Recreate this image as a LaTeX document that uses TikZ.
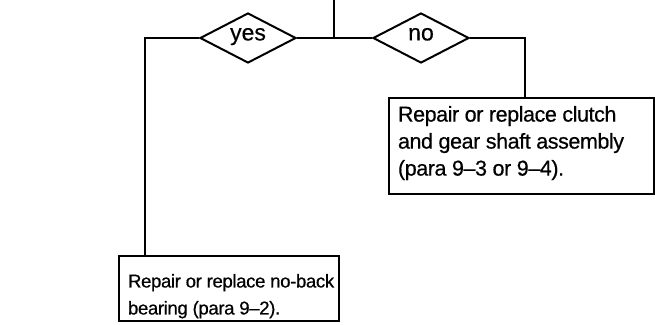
\documentclass[tikz,border=0pt]{standalone}
\usepackage{fontspec}
\setmainfont[FakeBold=0.5]{Liberation Sans}
\usetikzlibrary{shapes.geometric}
\begin{document}
\begin{tikzpicture}[x=1pt,y=-1pt,
  line width=2pt,
  choice/.style={draw,diamond,inner sep=0pt,minimum width=96pt,minimum height=50pt,
    font=\fontsize{23pt}{27pt}\selectfont,text depth=0pt,text height=0.48em},
  frame/.style={draw,rectangle,anchor=north west,inner sep=0pt},
  label/.style={anchor=north west,align=left,inner sep=0pt}]
\useasboundingbox (0,0) rectangle (655,324);
\coordinate (top) at (334,0);
\coordinate (j) at (334,38);
\node[choice] (yes) at (248,38) {yes};
\node[choice] (no) at (421,38) {no};
\node[frame,minimum width=265pt,minimum height=96pt] (cl) at (388,97) {};
\node[label,font=\fontsize{21.5pt}{27pt}\selectfont\addfontfeatures{LetterSpace=-2}] (cltext) at (397,105)
  {Repair or replace clutch\\and gear shaft assembly\\(para 9--3 or 9--4).};
\node[frame,minimum width=220pt,minimum height=65pt] (nb) at (118,255) {};
\node[label,font=\fontsize{18.6pt}{27pt}\selectfont\addfontfeatures{LetterSpace=-2}] (nbtext) at (127,273)
  {Repair or replace no-back\\bearing (para 9--2).};
\draw (top) -- (j);
\draw (j) -- (yes.east);
\draw (j) -- (no.west);
\draw (yes.west) -| ([xshift=27pt]nb.north west);
\draw (no.east) -| ([xshift=137pt]cl.north west);
\end{tikzpicture}
\end{document}
